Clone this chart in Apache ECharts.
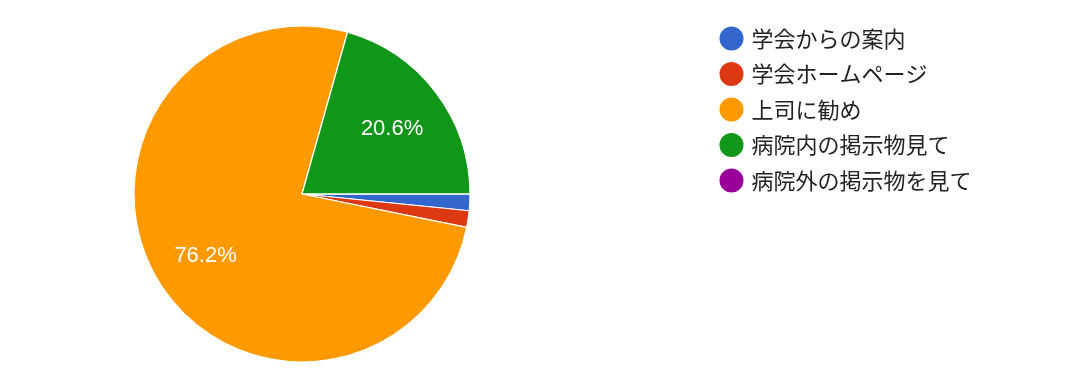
<!DOCTYPE html>
<html><head><meta charset="utf-8">
<script src="https://cdn.jsdelivr.net/npm/echarts@6/dist/echarts.min.js"></script>
<style>html,body{margin:0;padding:0;background:#fff}#c{width:1077px;height:392px}</style>
</head><body><div id="c"></div>
<script>
const categories = ['学会からの案内','学会ホームページ','上司に勧め','病院内の掲示物見て','病院外の掲示物を見て'];
const counts = [1, 1, 48, 13, 0];
const colors = ['#3366cc','#dc3912','#ff9900','#109618','#990099'];
const total = counts.reduce((a,b)=>a+b,0);
const data = categories.map((n,i)=>({name:n, value:counts[i], itemStyle:{color:colors[i]}}));
const chart = echarts.init(document.getElementById('c'));
chart.setOption({
  animation:false,
  legend:{
    orient:'vertical', left:717.5, top:24.5, padding:0, icon:'circle',
    itemWidth:26, itemHeight:26, itemGap:7.5,
    data:categories,
    textStyle:{fontSize:22, color:'#222', fontFamily:'Noto Sans CJK JP', padding:[0,0,0,2]}
  },
  series:[
    {type:'pie', center:[302,194], radius:[0,168], startAngle:0, clockwise:true,
     silent:true, label:{show:false}, labelLine:{show:false},
     itemStyle:{borderColor:'#fff', borderWidth:1.2}, data:data},
    {type:'pie', center:[302,194], radius:[0,220], startAngle:0, clockwise:true,
     silent:true, labelLine:{show:false},
     itemStyle:{color:'transparent'},
     labelLayout:{dy:3},
     label:{show:true, position:'inside', color:'#fff', fontSize:22, fontFamily:'Liberation Sans, Arial',
       formatter:p=> (p.value/total*100) < 5 ? '' : (p.value/total*100).toFixed(1)+'%'},
     data:categories.map((n,i)=>({name:n, value:counts[i], itemStyle:{color:'transparent'}}))}
  ]
});
</script></body></html>
